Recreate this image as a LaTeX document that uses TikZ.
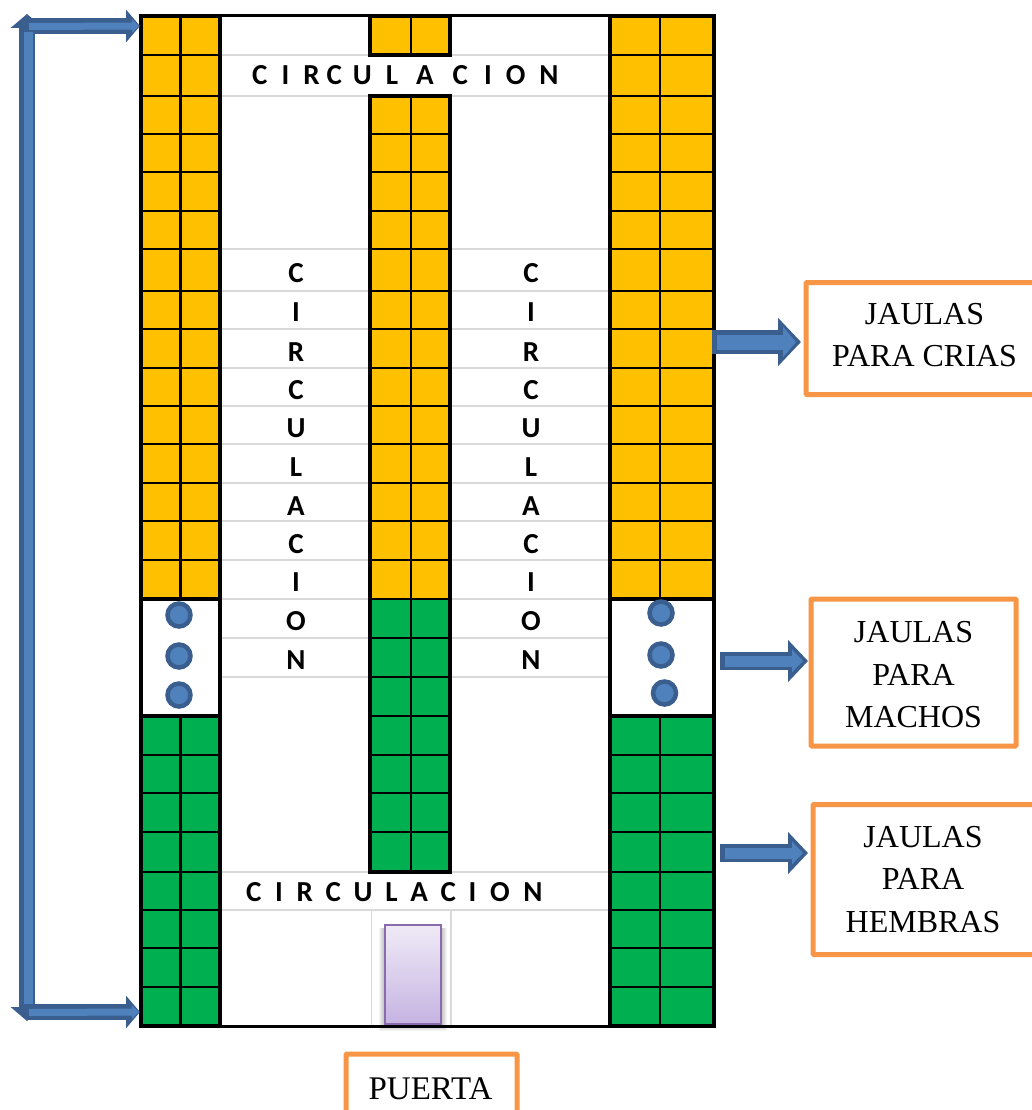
\documentclass[tikz,border=0pt]{standalone}
\usepackage{fontspec}
\setmainfont{Liberation Serif}
\newfontfamily\cirfont{Carlito}[BoldFont={Carlito Bold}]
\usetikzlibrary{arrows.meta}
\definecolor{gold}{HTML}{FFC000}
\definecolor{cagegreen}{HTML}{00B050}
\definecolor{steelout}{HTML}{3A5F8F}
\definecolor{steelin}{HTML}{4F81BD}
\definecolor{orangebox}{HTML}{F79646}
\definecolor{aisle}{HTML}{D9D9D9}
\definecolor{doortop}{HTML}{EFEAF6}
\definecolor{doorbot}{HTML}{C6B4E2}
\definecolor{doorline}{HTML}{8A6BAE}
\tikzset{
  x=1pt,y=-1pt,
  thickline/.style={line width=3.6pt,draw=black},
  gridline/.style={line width=2.2pt,draw=black},
  aisleline/.style={line width=1.5pt,draw=aisle},
  lettertext/.style={font=\cirfont\bfseries\fontsize{29}{30}\selectfont,text=black,inner sep=0pt},
  labelbox/.style={draw=orangebox,line width=5pt,rounded corners=1pt,fill=white,inner sep=0pt},
  labeltext/.style={align=center,inner sep=0pt,font=\fontsize{32}{42.5}\selectfont},
  knob/.style={circle,draw=steelout,fill=steelin,line width=4.5pt,minimum size=23pt,inner sep=0pt},
  arrowout/.style={draw=steelout,line width=18pt,-{Triangle[length=20pt,width=41pt]}},
  arrowin/.style={draw=steelin,line width=11pt,-{Triangle[length=11pt,width=22pt]},shorten >=5pt},
  bigout/.style={draw=steelout,line width=24pt,-{Triangle[length=23pt,width=47pt]}},
  bigin/.style={draw=steelin,line width=15pt,-{Triangle[length=13pt,width=30pt]},shorten >=5pt},
  sideout/.style={draw=steelout,line width=15.5pt,-{Triangle[length=14pt,width=32pt]}},
  sidein/.style={draw=steelin,line width=7pt,-{Triangle[length=7pt,width=13pt]},shorten >=1pt},
}
\newcommand{\cagecol}[6]{% x0, xm, x1, ytop, ybottom, colour
  \fill[#6] (#1,#4) rectangle (#3,#5);
  \draw[gridline] (#2,#4) -- (#2,#5);
}
\begin{document}
\begin{tikzpicture}
\useasboundingbox (0,0) rectangle (1032,1110);
\fill[white] (0,0) rectangle (1032,1110);

% aisle rules
\foreach \y in {55,96,249,291,329,368,406,444,483,521,560,599,638,677,872,910}
  \draw[aisleline] (220,\y) -- (610,\y);
\draw[aisleline] (371.5,910) -- (371.5,1026);
\draw[aisleline] (451,910) -- (451,1026);

% outer columns
\cagecol{141}{180.5}{220}{16}{599}{gold}
\cagecol{141}{180.5}{220}{716}{1026}{cagegreen}
\cagecol{610}{660}{714}{16}{599}{gold}
\cagecol{610}{660}{714}{716}{1026}{cagegreen}
% centre column
\cagecol{370}{411}{450}{16}{55}{gold}
\cagecol{370}{411}{450}{96}{599}{gold}
\cagecol{370}{411}{450}{599}{872}{cagegreen}

% cage rows
\foreach \y in {55,96,134,172,211,249,291,329,368,406,444,483,521,560,599,716,755,793,832,872,910,948,987}{
  \draw[gridline] (141,\y) -- (220,\y);
  \draw[gridline] (610,\y) -- (714,\y);
}
\foreach \y in {134,172,211,249,291,329,368,406,444,483,521,560,638,677,716,755,793,832}
  \draw[gridline] (370,\y) -- (450,\y);
\draw[gridline] (370,599) -- (450,599);

% heavy outlines
\draw[thickline] (141,16) rectangle (220,1026);
\draw[thickline] (610,16) rectangle (714,1026);
\draw[thickline] (370,16) rectangle (450,55);
\draw[thickline] (370,96) rectangle (450,872);
\draw[line width=3pt] (141,16) -- (714,16);
\draw[line width=3pt] (141,1026) -- (714,1026);
\draw[thickline] (141,599) -- (220,599) (141,716) -- (220,716);
\draw[thickline] (610,599) -- (714,599) (610,716) -- (714,716);

% knobs
\node[knob] (kl1) at (179,615) {};
\node[knob] (kl2) at (179,656) {};
\node[knob] (kl3) at (179,695) {};
\node[knob] (kr1) at (661,613) {};
\node[knob] (kr2) at (661,655) {};
\node[knob] (kr3) at (664.5,693) {};

% circulation texts
\node[lettertext,anchor=base west] (toptext) at (252,85)
  {C\hspace{14pt}I\hspace{14pt}R\hspace{7pt}C\hspace{11pt}U\hspace{14pt}L\hspace{18pt}A\hspace{19pt}C\hspace{16pt}I\hspace{14pt}O\hspace{14pt}N};
\node[lettertext,anchor=base west] (bottext) at (246,901)
  {C\hspace{13.7pt}I\hspace{13.7pt}R\hspace{12.7pt}C\hspace{12.7pt}U\hspace{12.7pt}L\hspace{12.7pt}A\hspace{12.7pt}C\hspace{12.7pt}I\hspace{13.7pt}O\hspace{13.7pt}N};
\foreach \c/\y [count=\i] in {C/282,I/321,R/361,C/399,U/437,L/476,A/515,C/553,I/591,O/630,N/669}{
  \node[lettertext,anchor=base] (vl\i) at (296,\y) {\c};
  \node[lettertext,anchor=base] (vr\i) at (531,\y) {\c};
}

% door with soft shadow
\foreach \d in {1,...,6}
  \fill[black,opacity=.045] (385-\d,928) rectangle (441+\d,1025+\d);
\node[minimum width=56pt,minimum height=99pt,inner sep=0pt,
   top color=doortop,bottom color=doorbot,draw=doorline,line width=1.8pt] (door) at (413,974.5) {};

% label boxes
\node[labelbox,minimum width=238pt,minimum height=112pt] (criasbox) at (925,338.5) {};
\node[labeltext] (crias) at (924.5,335) {JAULAS\\PARA CRIAS};
\node[labelbox,minimum width=205pt,minimum height=147pt] (machosbox) at (913.5,672.5) {};
\node[labeltext] (machos) at (913.5,675) {JAULAS\\PARA\\MACHOS};
\node[labelbox,minimum width=238pt,minimum height=150pt] (hembrasbox) at (932,879.5) {};
\node[labeltext] (hembras) at (923,879.5) {JAULAS\\PARA\\HEMBRAS};
\node[labelbox,minimum width=171pt,minimum height=70pt] (puertabox) at (431.5,1089) {};
\node[labeltext,font=\fontsize{33}{40}\selectfont] (puerta) at (430.5,1088.5) {PUERTA};

% block arrows
\coordinate (a1s) at (712,342); \coordinate (a1e) at (801,342);
\coordinate (a2s) at (720,661); \coordinate (a2e) at (808,661);
\coordinate (a3s) at (720,853); \coordinate (a3e) at (808,853);
\draw[bigout] (a1s) -- (a1e);
\draw[bigin] ([xshift=5pt]a1s) -- (a1e);
\foreach \s/\e in {a2s/a2e,a3s/a3e}{
  \draw[arrowout] (\s) -- (\e);
  \draw[arrowin] ([xshift=5pt]\s) -- (\e);
}

% long side arrow
\coordinate (top) at (27,14);
\coordinate (bot) at (27,1021);
\coordinate (ctop) at (27,26);
\coordinate (cbot) at (27,1012);
\coordinate (htop) at (140,26);
\coordinate (hbot) at (140,1012);
\draw[sideout] (27,1006) -- (top);
\draw[sideout] (27,30) -- (bot);
\draw[sideout] (ctop) -- (htop);
\draw[sideout] (cbot) -- (hbot);
\draw[draw=steelin,line width=9pt] (28.5,32) -- (28.5,1004);
\draw[sidein] (29,26.5) -- (htop);
\draw[sidein] (29,1012.5) -- (hbot);
\end{tikzpicture}
\end{document}
